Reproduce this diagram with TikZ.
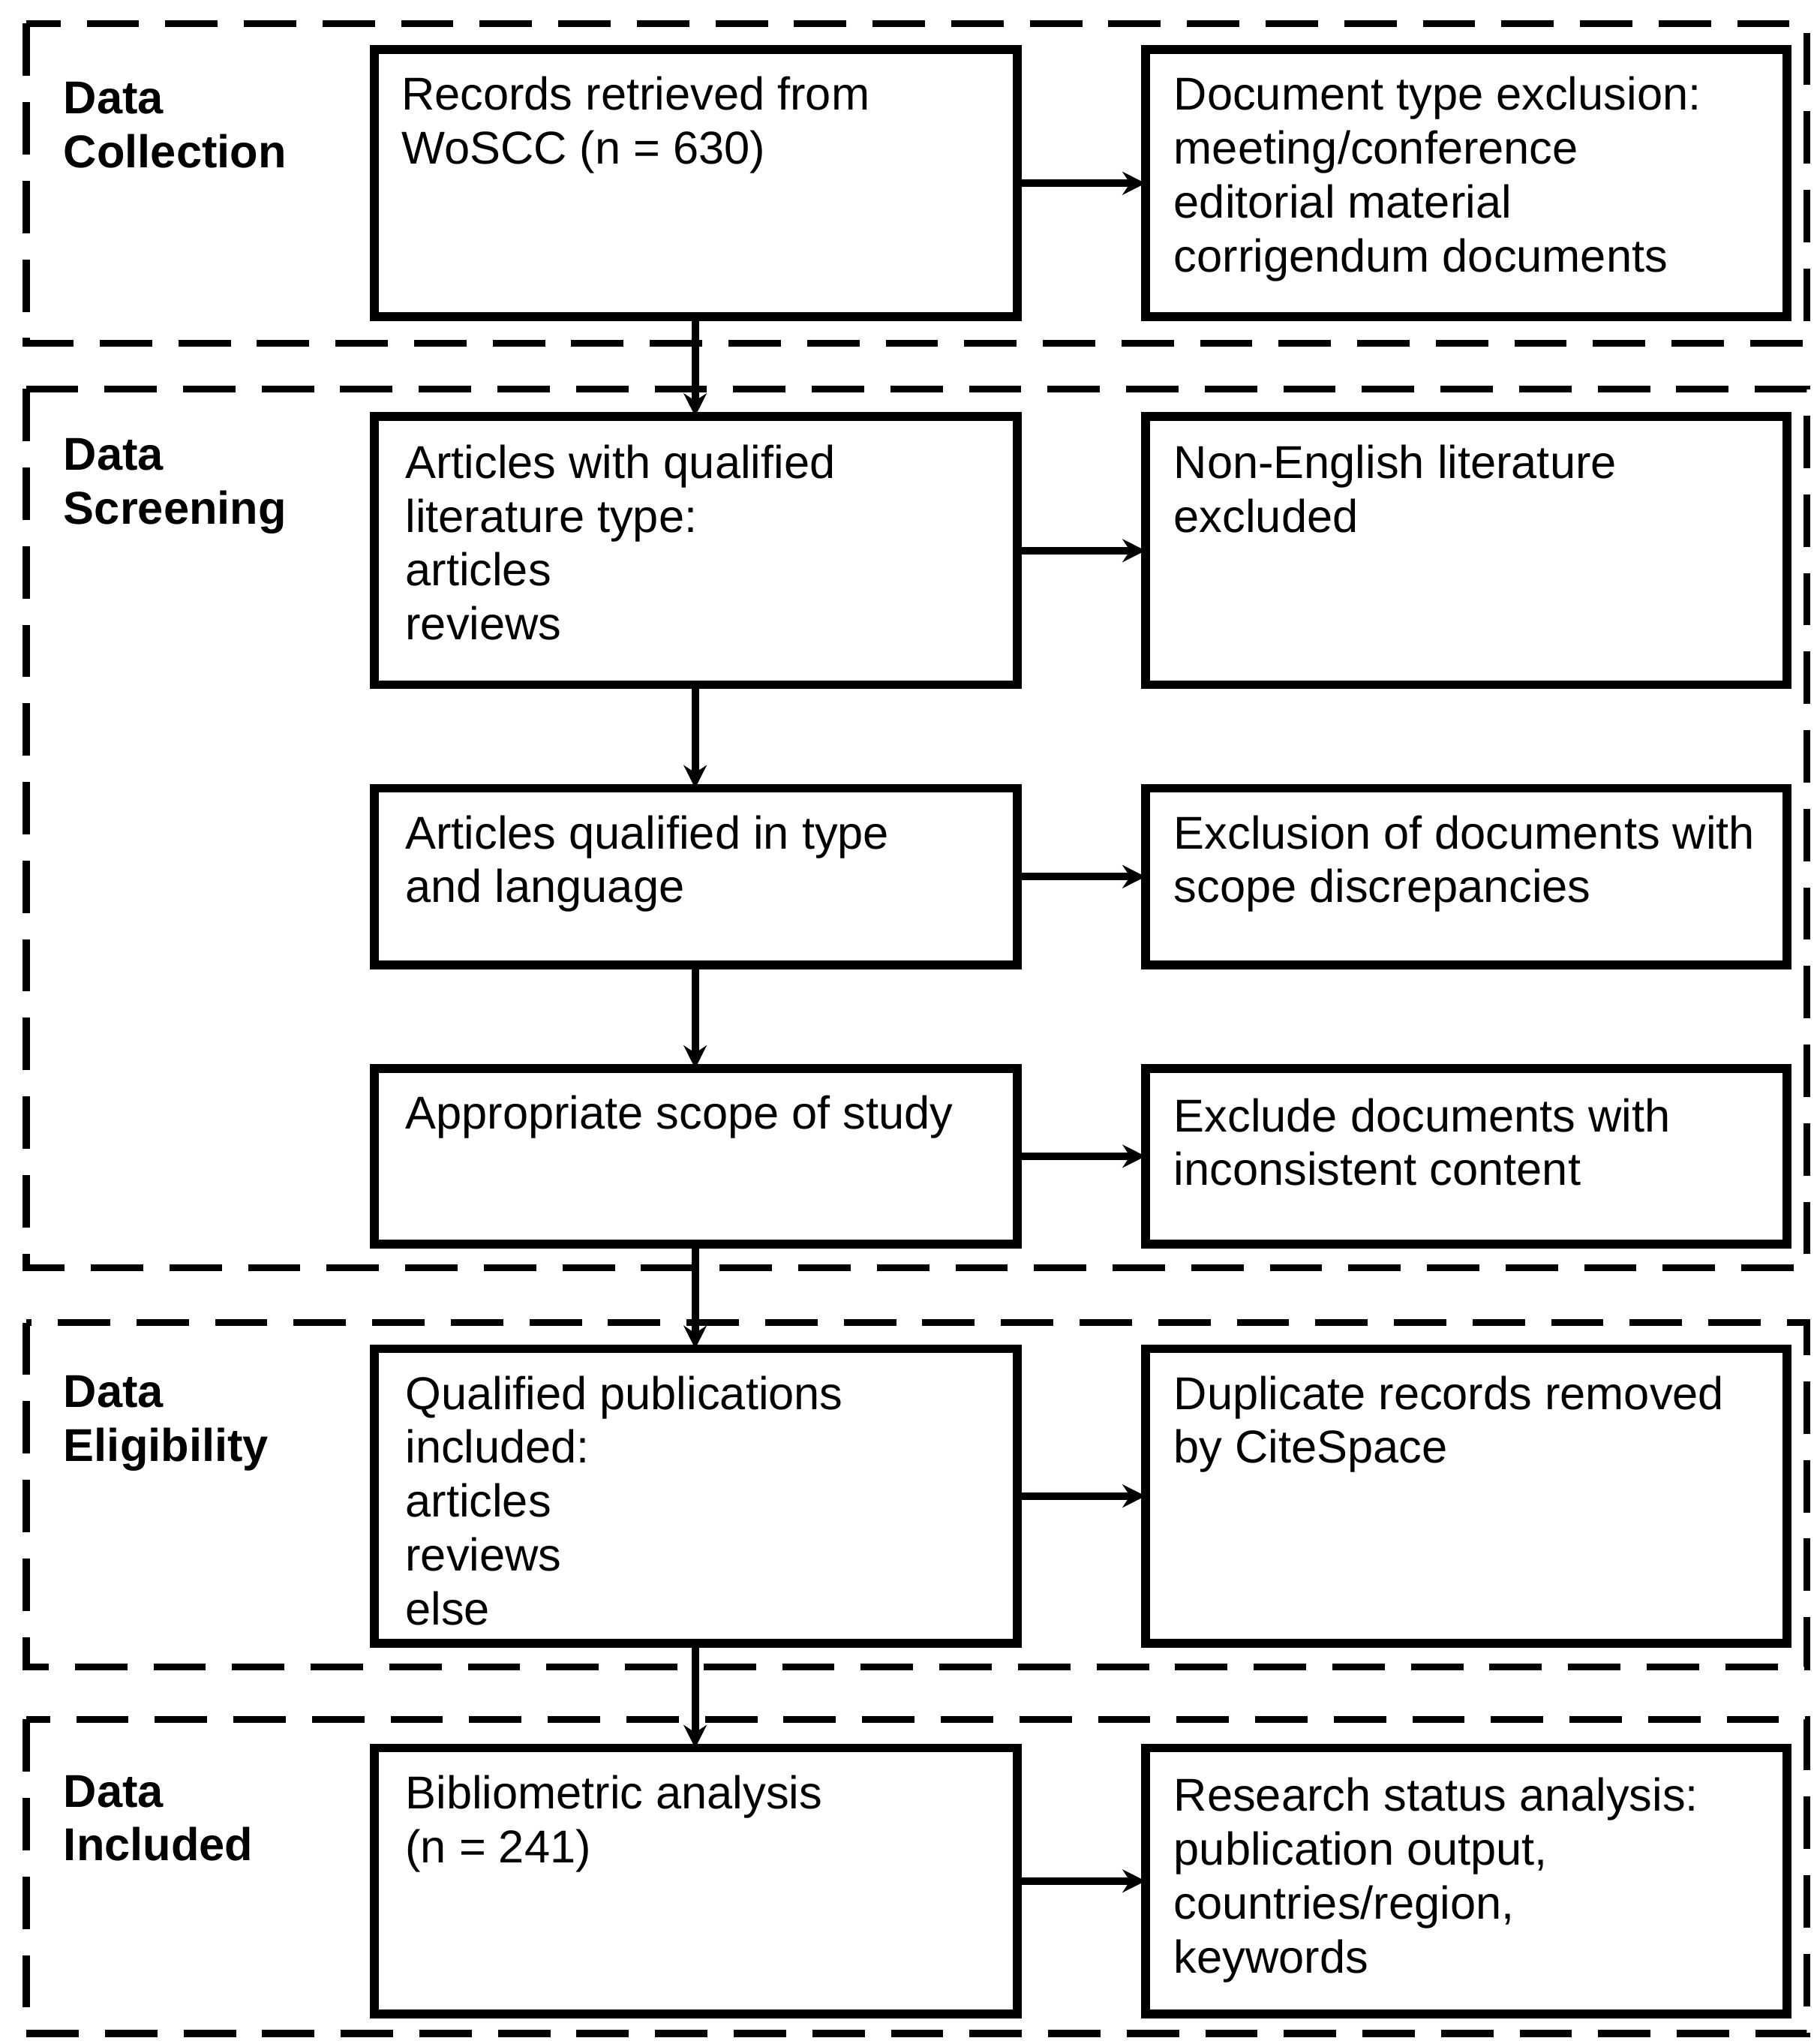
\documentclass[tikz,border=0pt]{standalone}
\usepackage{fontspec}
\setmainfont{Liberation Sans}
\usetikzlibrary{arrows.meta}
\begin{document}
\begin{tikzpicture}[x=0.01cm,y=-0.01cm,
  box/.style={draw,line width=1.9pt},
  txt/.style={anchor=north west,align=left,inner sep=0pt,font=\fontsize{10}{11.7}\selectfont},
  lab/.style={anchor=north west,align=left,inner sep=0pt,font=\fontsize{10}{11.7}\selectfont\bfseries},
  reg/.style={draw,line width=1.5pt,dash pattern=on 0.4cm off 0.2cm},
  arr/.style={line width=1.6pt,-{Stealth[length=5pt,width=5pt]}}]
\useasboundingbox (0,0) rectangle (1390,1561);
% regions
\draw[reg] (20,18) rectangle (1380,262);
\draw[reg] (20,297) rectangle (1380,968);
\draw[reg] (20,1010) rectangle (1380,1273);
\draw[reg] (20,1313) rectangle (1380,1553);
% labels
\node[lab] (l1) at (48,62) {Data\\Collection};
\node[lab] (l2) at (48,334) {Data\\Screening};
\node[lab] (l3) at (48,1050) {Data\\Eligibility};
\node[lab] (l4) at (48,1355) {Data\\Included};
% boxes
\foreach \n/\t/\b in {1/38/242,2/318/523,3/602/737,4/816/950,5/1030/1255,6/1335/1538}{
  \draw[box] (286,\t) rectangle (777,\b);
  \coordinate (L\n) at (531,\t);
  \coordinate (Lb\n) at (531,\b);
  \coordinate (Lr\n) at (777,{(\t+\b)/2});
  \draw[box] (875,\t) rectangle (1365,\b);
  \coordinate (Rl\n) at (875,{(\t+\b)/2});
}
\node[txt] (a1) at (306,58) {Records retrieved from\\WoSCC (n = 630)};
\node[txt] (b1) at (896,58) {Document type exclusion:\\meeting/conference\\editorial material\\corrigendum documents};
\node[txt] (a2) at (309,339) {Articles with qualified\\literature type:\\articles\\reviews};
\node[txt] (b2) at (896,339) {Non-English literature\\excluded};
\node[txt] (a3) at (309,622) {Articles qualified in type\\and language};
\node[txt] (b3) at (896,622) {Exclusion of documents with\\scope discrepancies};
\node[txt] (a4) at (309,836) {Appropriate scope of study};
\node[txt] (b4) at (896,838) {Exclude documents with\\inconsistent content};
\node[txt] (a5) at (309,1050) {Qualified publications\\included:\\articles\\reviews\\else};
\node[txt] (b5) at (896,1050) {Duplicate records removed\\by CiteSpace};
\node[txt] (a6) at (309,1355) {Bibliometric analysis\\(n = 241)};
\node[txt] (b6) at (896,1357) {Research status analysis:\\publication output,\\countries/region,\\keywords};
% arrows
\foreach \n in {1,...,6}{\draw[arr] (Lr\n) -- (Rl\n);}
\draw[arr] (Lb1) -- (L2);
\draw[arr] (Lb2) -- (L3);
\draw[arr] (Lb3) -- (L4);
\draw[arr] (Lb4) -- (L5);
\draw[arr] (Lb5) -- (L6);
\end{tikzpicture}
\end{document}
